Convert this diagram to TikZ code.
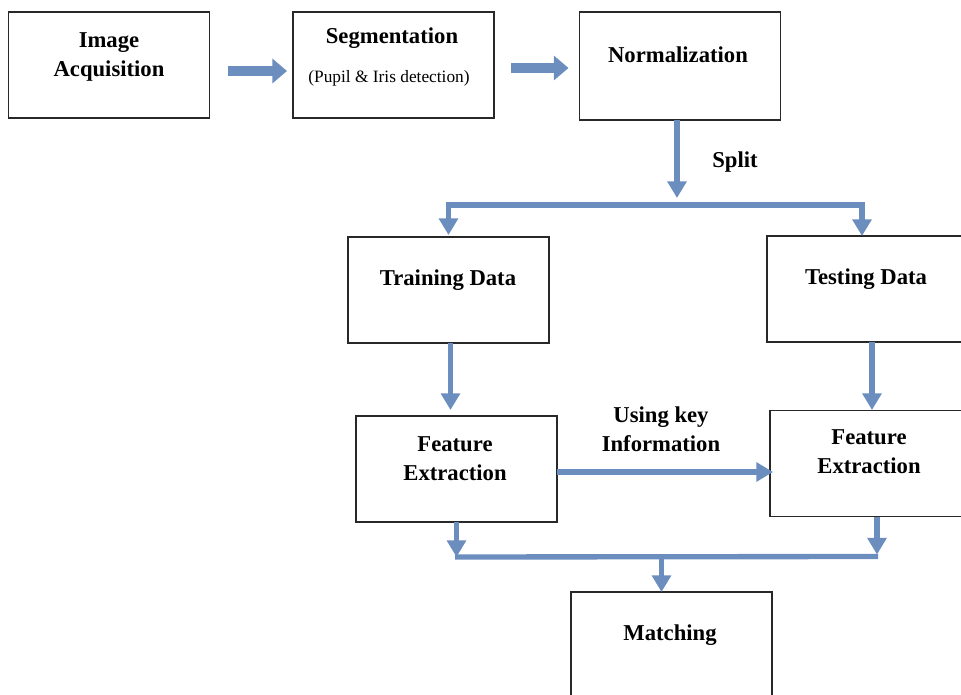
\documentclass[tikz,border=0pt]{standalone}
\usepackage{fontspec}
\setmainfont{Liberation Serif}
\usetikzlibrary{arrows.meta,calc}
\definecolor{arrowblue}{RGB}{108,142,191}
\definecolor{boxline}{RGB}{40,40,40}
\tikzset{
  box/.style={draw=boxline, line width=0.9pt, minimum width=150.75pt, minimum height=79.5pt, inner sep=0pt, outer sep=0pt},
  txt/.style={font=\fontsize{17}{22}\selectfont\bfseries, align=center, inner sep=0pt},
  small/.style={font=\fontsize{13}{15}\selectfont, align=center, inner sep=0pt},
  conn/.style={draw=arrowblue, line width=4pt},
  arr/.style={conn, -{Triangle[width=14pt,length=12.5pt]}},
  fat/.style={draw=arrowblue, line width=7.5pt, -{Triangle[width=18pt,length=11pt]}}
}
\begin{document}
\begin{tikzpicture}[x=0.75pt,y=-0.75pt]
\useasboundingbox (0,0) rectangle (961,695);
\clip (0,0) rectangle (961,695);
% boxes
\node[box] (acq) at (109,65) {};
\node[box] (seg) at (393.5,65) {};
\node[box, minimum height=81pt] (norm) at (680,66) {};
\node[box] (train) at (448.5,290) {};
\node[box] (test) at (867.5,289) {};
\node[box] (fe1) at (456.5,469) {};
\node[box] (fe2) at (870.5,463.5) {};
\node[box] (match) at (671.5,645) {};
% texts
\node[txt] (acqt) at (109,57) {Image\\Acquisition};
\node[txt] (segt) at (392,38) {Segmentation};
\node[small] (segs) at (389,78) {(Pupil \& Iris detection)};
\node[txt] (normt) at (678,55) {Normalization};
\node[txt] (splitt) at (735,162) {Split};
\node[txt] (traint) at (448,280) {Training Data};
\node[txt] (testt) at (866,279) {Testing Data};
\node[txt] (usingt) at (661,429) {Using key\\Information};
\node[txt] (fe1t) at (455,459) {Feature\\Extraction};
\node[txt] (fe2t) at (869,452) {Feature\\Extraction};
\node[txt] (matcht) at (670,635) {Matching};
% top fat arrows
\draw[fat] ($(acq.east)+(18,6)$) -- ($(seg.west)+(-6,6)$);
\draw[fat] ($(seg.east)+(17,3)$) -- ($(norm.west)+(-11,2)$);
% split
\coordinate (sc) at ($(norm.south)+(-3,85)$);
\draw[arr] ($(norm.south)+(-3,0)$) -- ($(norm.south)+(-3,78)$);
\draw[arr] (sc) -| ($(train.north)+(0,-2)$);
\draw[arr] (sc) -| ($(test.north)+(-5.5,0)$);
% down arrows
\draw[arr] ($(train.south)+(2,0)$) -- ($(train.south)+(2,67)$);
\draw[arr] ($(test.south)+(4.5,0)$) -- ($(test.south)+(4.5,68)$);
% using key info
\draw[arr] ($(fe1.east)+(0,3)$) -- ($(fe2.west)+(3,8.5)$);
% bottom merge
\coordinate (mc) at ($(match.north)+(-10,-35)$);
\draw[conn] ($(fe1.south)+(-1.5,35)$) -- ($(fe2.south)+(7.5,40)$);
\draw[arr] (fe1.south) -- ++(0,35);
\draw[arr] ($(fe2.south)+(6.5,0)$) -- ++(0,38);
\draw[arr] (mc) -- ($(match.north)+(-10,0)$);
\end{tikzpicture}
\end{document}
